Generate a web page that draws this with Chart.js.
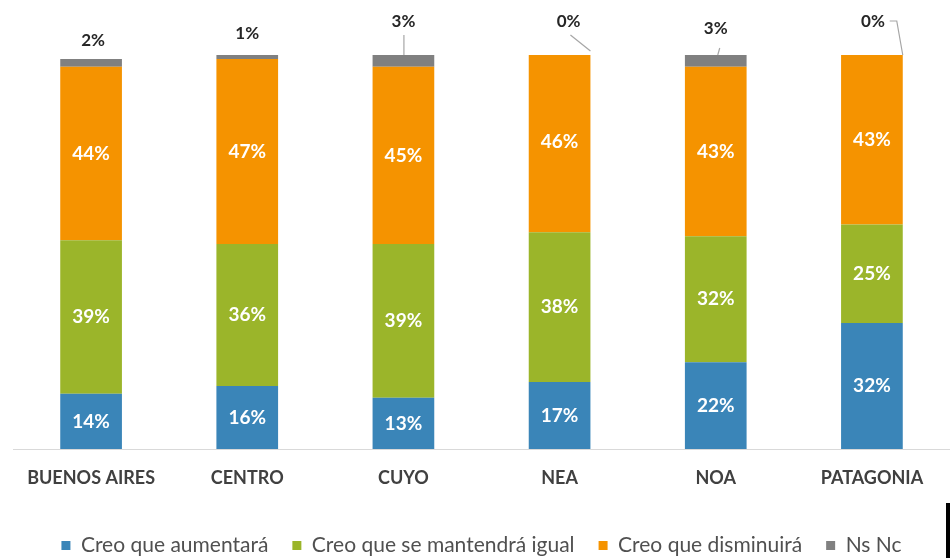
<!DOCTYPE html>
<html><head><meta charset="utf-8">
<script src="https://cdn.jsdelivr.net/npm/chart.js@4.4.1/dist/chart.umd.min.js"></script>
<style>
html,body{margin:0;padding:0;background:#fff;overflow:hidden;}
#wrap{position:relative;width:950px;height:558px;overflow:hidden;}
#artifact{position:absolute;left:946px;top:503px;width:4px;height:55px;background:#000;}
</style></head>
<body><div id="wrap"><canvas id="c" width="950" height="566"></canvas><div id="artifact"></div></div>
<script>
const categories = ['BUENOS AIRES','CENTRO','CUYO','NEA','NOA','PATAGONIA'];
const aumentara = [14,16,13,17,22,32];
const mantendra = [39,36,39,38,32,25];
const disminuira = [44,47,45,46,43,43];
const nsnc = [2,1,3,0,3,0];
const seriesNames = ['Creo que aumentará','Creo que se mantendrá igual','Creo que disminuirá','Ns Nc'];
const colors = ['#3A85B8','#9BB52A','#F59300','#808080'];
// label offsets (dx, dy from bar top) for the Ns Nc labels
const topLabelOffsets = [[2,-14],[0,-21],[0,-33],[9,-30],[0,-26],[1,-33]];

const FONT = 'Lato, "Open Sans", sans-serif';

const labelPlugin = {
  id:'labels',
  afterDatasetsDraw(chart){
    const ctx = chart.ctx;
    ctx.save();
    ctx.textAlign='center'; ctx.textBaseline='middle';
    ctx.font = 'bold 19px ' + FONT;
    for (let d=0; d<3; d++){
      const meta = chart.getDatasetMeta(d);
      meta.data.forEach((bar,i)=>{
        const v = chart.data.datasets[d].data[i];
        const yc = (bar.y + bar.base)/2;
        ctx.fillStyle = '#fff';
        ctx.fillText(v+'%', bar.x, yc);
      });
    }
    ctx.font = 'bold 17px ' + FONT;
    const meta = chart.getDatasetMeta(3);
    const yTop = chart.scales.y.getPixelForValue(100);
    meta.data.forEach((bar,i)=>{
      const v = chart.data.datasets[3].data[i];
      const top = Math.min(bar.y, yTop);
      const off = topLabelOffsets[i];
      const lx = bar.x + off[0], ly = top + off[1];
      ctx.strokeStyle = '#A6A6A6'; ctx.lineWidth = 1.2;
      const half = bar.width/2;
      if (i===2){ ctx.beginPath(); ctx.moveTo(bar.x+0.5, top); ctx.lineTo(bar.x+0.5, ly+13); ctx.stroke(); }
      if (i===4){ ctx.beginPath(); ctx.moveTo(bar.x+2, top); ctx.lineTo(bar.x+4, ly+19); ctx.stroke(); }
      if (i===3){ ctx.beginPath(); ctx.moveTo(bar.x+half, top); ctx.lineTo(bar.x+half-20, top-16); ctx.stroke(); }
      if (i===5){ ctx.beginPath(); ctx.moveTo(bar.x+half, top); ctx.lineTo(bar.x+half-6, ly-1); ctx.lineTo(bar.x+half-13, ly-1); ctx.stroke(); }
      ctx.fillStyle = '#262626';
      ctx.fillText(v+'%', lx, ly);
    });
    ctx.restore();
  }
};

new Chart(document.getElementById('c'), {
  type:'bar',
  data:{
    labels: categories,
    datasets:[
      {label:seriesNames[0], data:aumentara, backgroundColor:colors[0]},
      {label:seriesNames[1], data:mantendra, backgroundColor:colors[1]},
      {label:seriesNames[2], data:disminuira, backgroundColor:colors[2]},
      {label:seriesNames[3], data:nsnc, backgroundColor:colors[3]}
    ]
  },
  options:{
    responsive:false, animation:false,
    devicePixelRatio:1,
    layout:{padding:{top:55,left:13,right:0,bottom:0}},
    datasets:{bar:{categoryPercentage:1, barPercentage:0.395}},
    scales:{
      x:{stacked:true, grid:{display:false, drawTicks:false}, border:{display:true,color:'#D9D9D9',width:1},
         ticks:{padding:18, color:'#404040', font:{family:FONT, size:18, weight:'bold'}},
         afterFit(s){ s.height = 62; }},
      y:{stacked:true, display:false, min:0, max:100}
    },
    plugins:{
      tooltip:{enabled:false},
      legend:{position:'bottom', labels:{boxWidth:9, boxHeight:9, padding:24, color:'#505050',
        font:{family:FONT, size:21}}}
    }
  },
  plugins:[labelPlugin]
});
</script></body></html>
